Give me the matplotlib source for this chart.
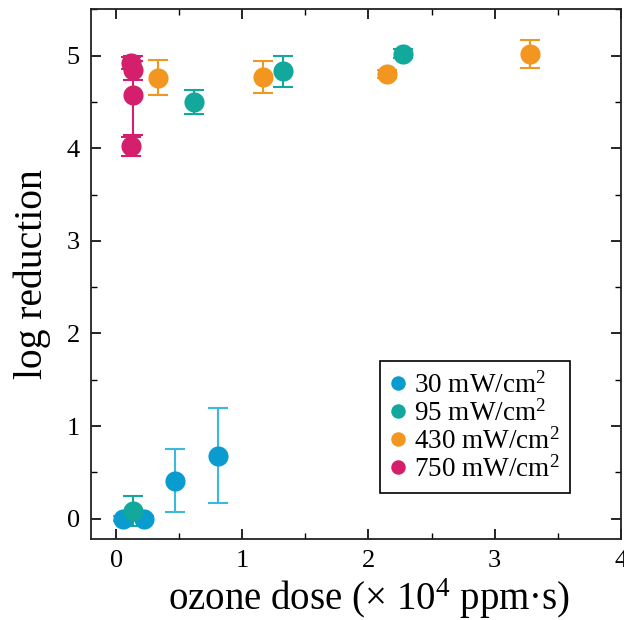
import numpy as np
import matplotlib
matplotlib.use("Agg")
import matplotlib.pyplot as plt
from matplotlib.ticker import MultipleLocator

plt.rcParams.update({
    "font.family": ["Liberation Serif", "DejaVu Serif"],
    "mathtext.fontset": "custom",
    "mathtext.rm": "Liberation Serif",
    "mathtext.it": "Liberation Serif:italic",
    "xtick.direction": "in",
    "ytick.direction": "in",
    "xtick.top": True,
    "ytick.right": True,
})

# ─── Data ─────────────────────────────────────────────────────────────────────
labels = ["30 mW/cm$^2$", "95 mW/cm$^2$", "430 mW/cm$^2$", "750 mW/cm$^2$"]
colors = ["#0b9ccf", "#12a89c", "#f3961f", "#d4206c"]
err_colors = ["#3cb8dd", "#12a89c", "#f3961f", "#d4206c"]

dose_30 = [0.05, 0.22, 0.47, 0.81]
logred_30 = [0.0, 0.0, 0.41, 0.68]
err_30 = [0.03, 0.03, 0.34, 0.51]

dose_95 = [0.13, 0.62, 1.32, 2.27]
logred_95 = [0.085, 4.50, 4.83, 5.02]
err_95 = [0.165, 0.13, 0.17, 0.05]

dose_430 = [0.33, 1.16, 2.15, 3.28]
logred_430 = [4.76, 4.77, 4.80, 5.02]
err_430 = [0.19, 0.17, 0.04, 0.15]

dose_750 = [0.12, 0.13, 0.13, 0.12]
logred_750 = [4.92, 4.84, 4.57, 4.02]
err_750 = [0.06, 0.10, 0.43, 0.10]

series = [
    (dose_30, logred_30, err_30),
    (dose_95, logred_95, err_95),
    (dose_430, logred_430, err_430),
    (dose_750, logred_750, err_750),
]

# ─── Plot ─────────────────────────────────────────────────────────────────────
fig = plt.figure(figsize=(6.24, 6.20), dpi=100)
ax = fig.add_axes([0.1458, 0.1306, 0.8490, 0.8544])

for (x, y, e), c, ec, lab in zip(series, colors, err_colors, labels):
    ax.errorbar(x, y, yerr=e, fmt="none", ecolor=ec, elinewidth=1.5,
                capsize=7, capthick=1.5, zorder=2)
    ax.plot(x, y, "o", color=c, markersize=14.5, markeredgewidth=0,
            label=lab, zorder=3)

ax.set_xlim(-0.2, 4.0)
ax.set_ylim(-0.22, 5.5)
ax.xaxis.set_major_locator(MultipleLocator(1))
ax.xaxis.set_minor_locator(MultipleLocator(0.5))
ax.yaxis.set_major_locator(MultipleLocator(1))
ax.yaxis.set_minor_locator(MultipleLocator(0.5))
ax.tick_params(which="major", length=7, width=1.2, labelsize=19, pad=8)
ax.tick_params(which="minor", length=4, width=1.0)
for sp in ax.spines.values():
    sp.set_linewidth(1.3)
    sp.set_color("#222222")

ax.set_xlabel("ozone dose (× 10$^4$ ppm·s)", fontsize=28, labelpad=3)
ax.xaxis.set_label_coords(0.524, -0.071, transform=ax.transAxes)
ax.xaxis.label.set_va("top")
ax.set_ylabel("log reduction", fontsize=28.5, labelpad=11)

leg = ax.legend(loc="lower right", bbox_to_anchor=(0.905, 0.087),
                fontsize=19.5, frameon=True, fancybox=False, framealpha=1,
                edgecolor="black", handlelength=0.55, handletextpad=0.3,
                labelspacing=0.05, borderpad=0.4, borderaxespad=0,
                markerscale=0.72)
leg.get_frame().set_linewidth(1.2)

fig.savefig("out.png", dpi=100)
